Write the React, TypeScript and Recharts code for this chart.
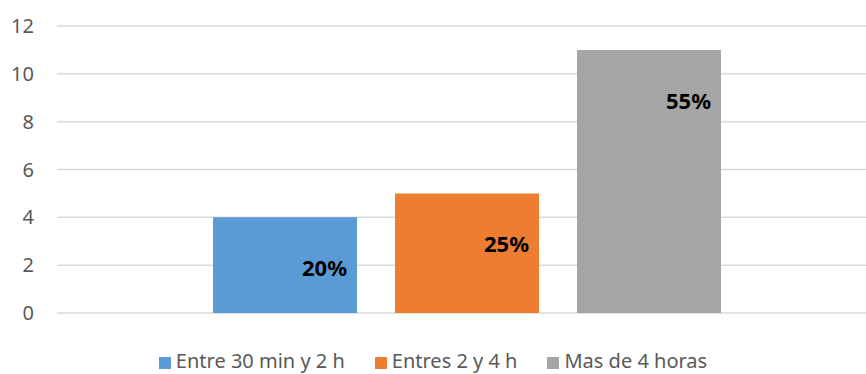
import { BarChart, Bar, XAxis, YAxis, CartesianGrid, LabelList } from 'recharts';

const seriesNames = ['Entre 30 min y 2 h', 'Entres 2 y 4 h', 'Mas de 4 horas'];
const seriesValues = [4, 5, 11];
const seriesLabels = ['20%', '25%', '55%'];
const seriesColors = ['#5b9bd5', '#ed7d31', '#a5a5a5'];
const yTicks = [0, 2, 4, 6, 8, 10, 12];

const keys = ['s0', 's1', 's2'];
const row: Record<string, string | number> = { name: '' };
keys.forEach((k, i) => {
  row[k] = seriesValues[i];
});
const data = [row];

const FONT = '"Noto Sans", sans-serif';

function makeLabel(text: string) {
  return (props: any) => {
    const { x, y, width } = props;
    return (
      <text
        x={Number(x) + Number(width) - 10}
        y={Number(y) + 59}
        textAnchor="end"
        fontFamily={FONT}
        fontWeight="bold"
        fontSize={22}
        fill="#000"
      >
        {text}
      </text>
    );
  };
}

export default function App() {
  return (
    <div style={{ position: 'absolute', left: 0, top: 0, width: 866, height: 374, overflow: 'hidden', background: '#fff' }}>
      <BarChart
        width={877}
        height={374}
        data={data}
        margin={{ top: 26, right: 0, bottom: 61, left: 0 }}
        barSize={144}
        barGap={38}
      >
        <CartesianGrid vertical={false} stroke="#d9d9d9" strokeWidth={1.5} />
        <XAxis dataKey="name" hide />
        <YAxis
          width={57}
          domain={[0, 12]}
          ticks={yTicks}
          axisLine={false}
          tickLine={false}
          tickSize={0}
          tickMargin={23}
          tick={{ fill: '#595959', fontSize: 20, fontFamily: FONT }}
        />
        {keys.map((k, i) => (
          <Bar key={k} dataKey={k} name={seriesNames[i]} fill={seriesColors[i]} isAnimationActive={false}>
            <LabelList dataKey={k} content={makeLabel(seriesLabels[i])} />
          </Bar>
        ))}
      </BarChart>
      <div
        style={{
          position: 'absolute',
          left: 0,
          width: 866,
          top: 350,
          display: 'flex',
          justifyContent: 'center',
          gap: 30,
          fontFamily: FONT,
          fontSize: 20,
          color: '#595959',
          lineHeight: '22px',
        }}
      >
        {seriesNames.map((n, i) => (
          <div key={n} style={{ display: 'flex', alignItems: 'center' }}>
            <span
              style={{
                width: 12,
                height: 12,
                background: seriesColors[i],
                display: 'inline-block',
                marginRight: 5,
                position: 'relative',
                top: 2,
              }}
            />
            <span>{n}</span>
          </div>
        ))}
      </div>
    </div>
  );
}
